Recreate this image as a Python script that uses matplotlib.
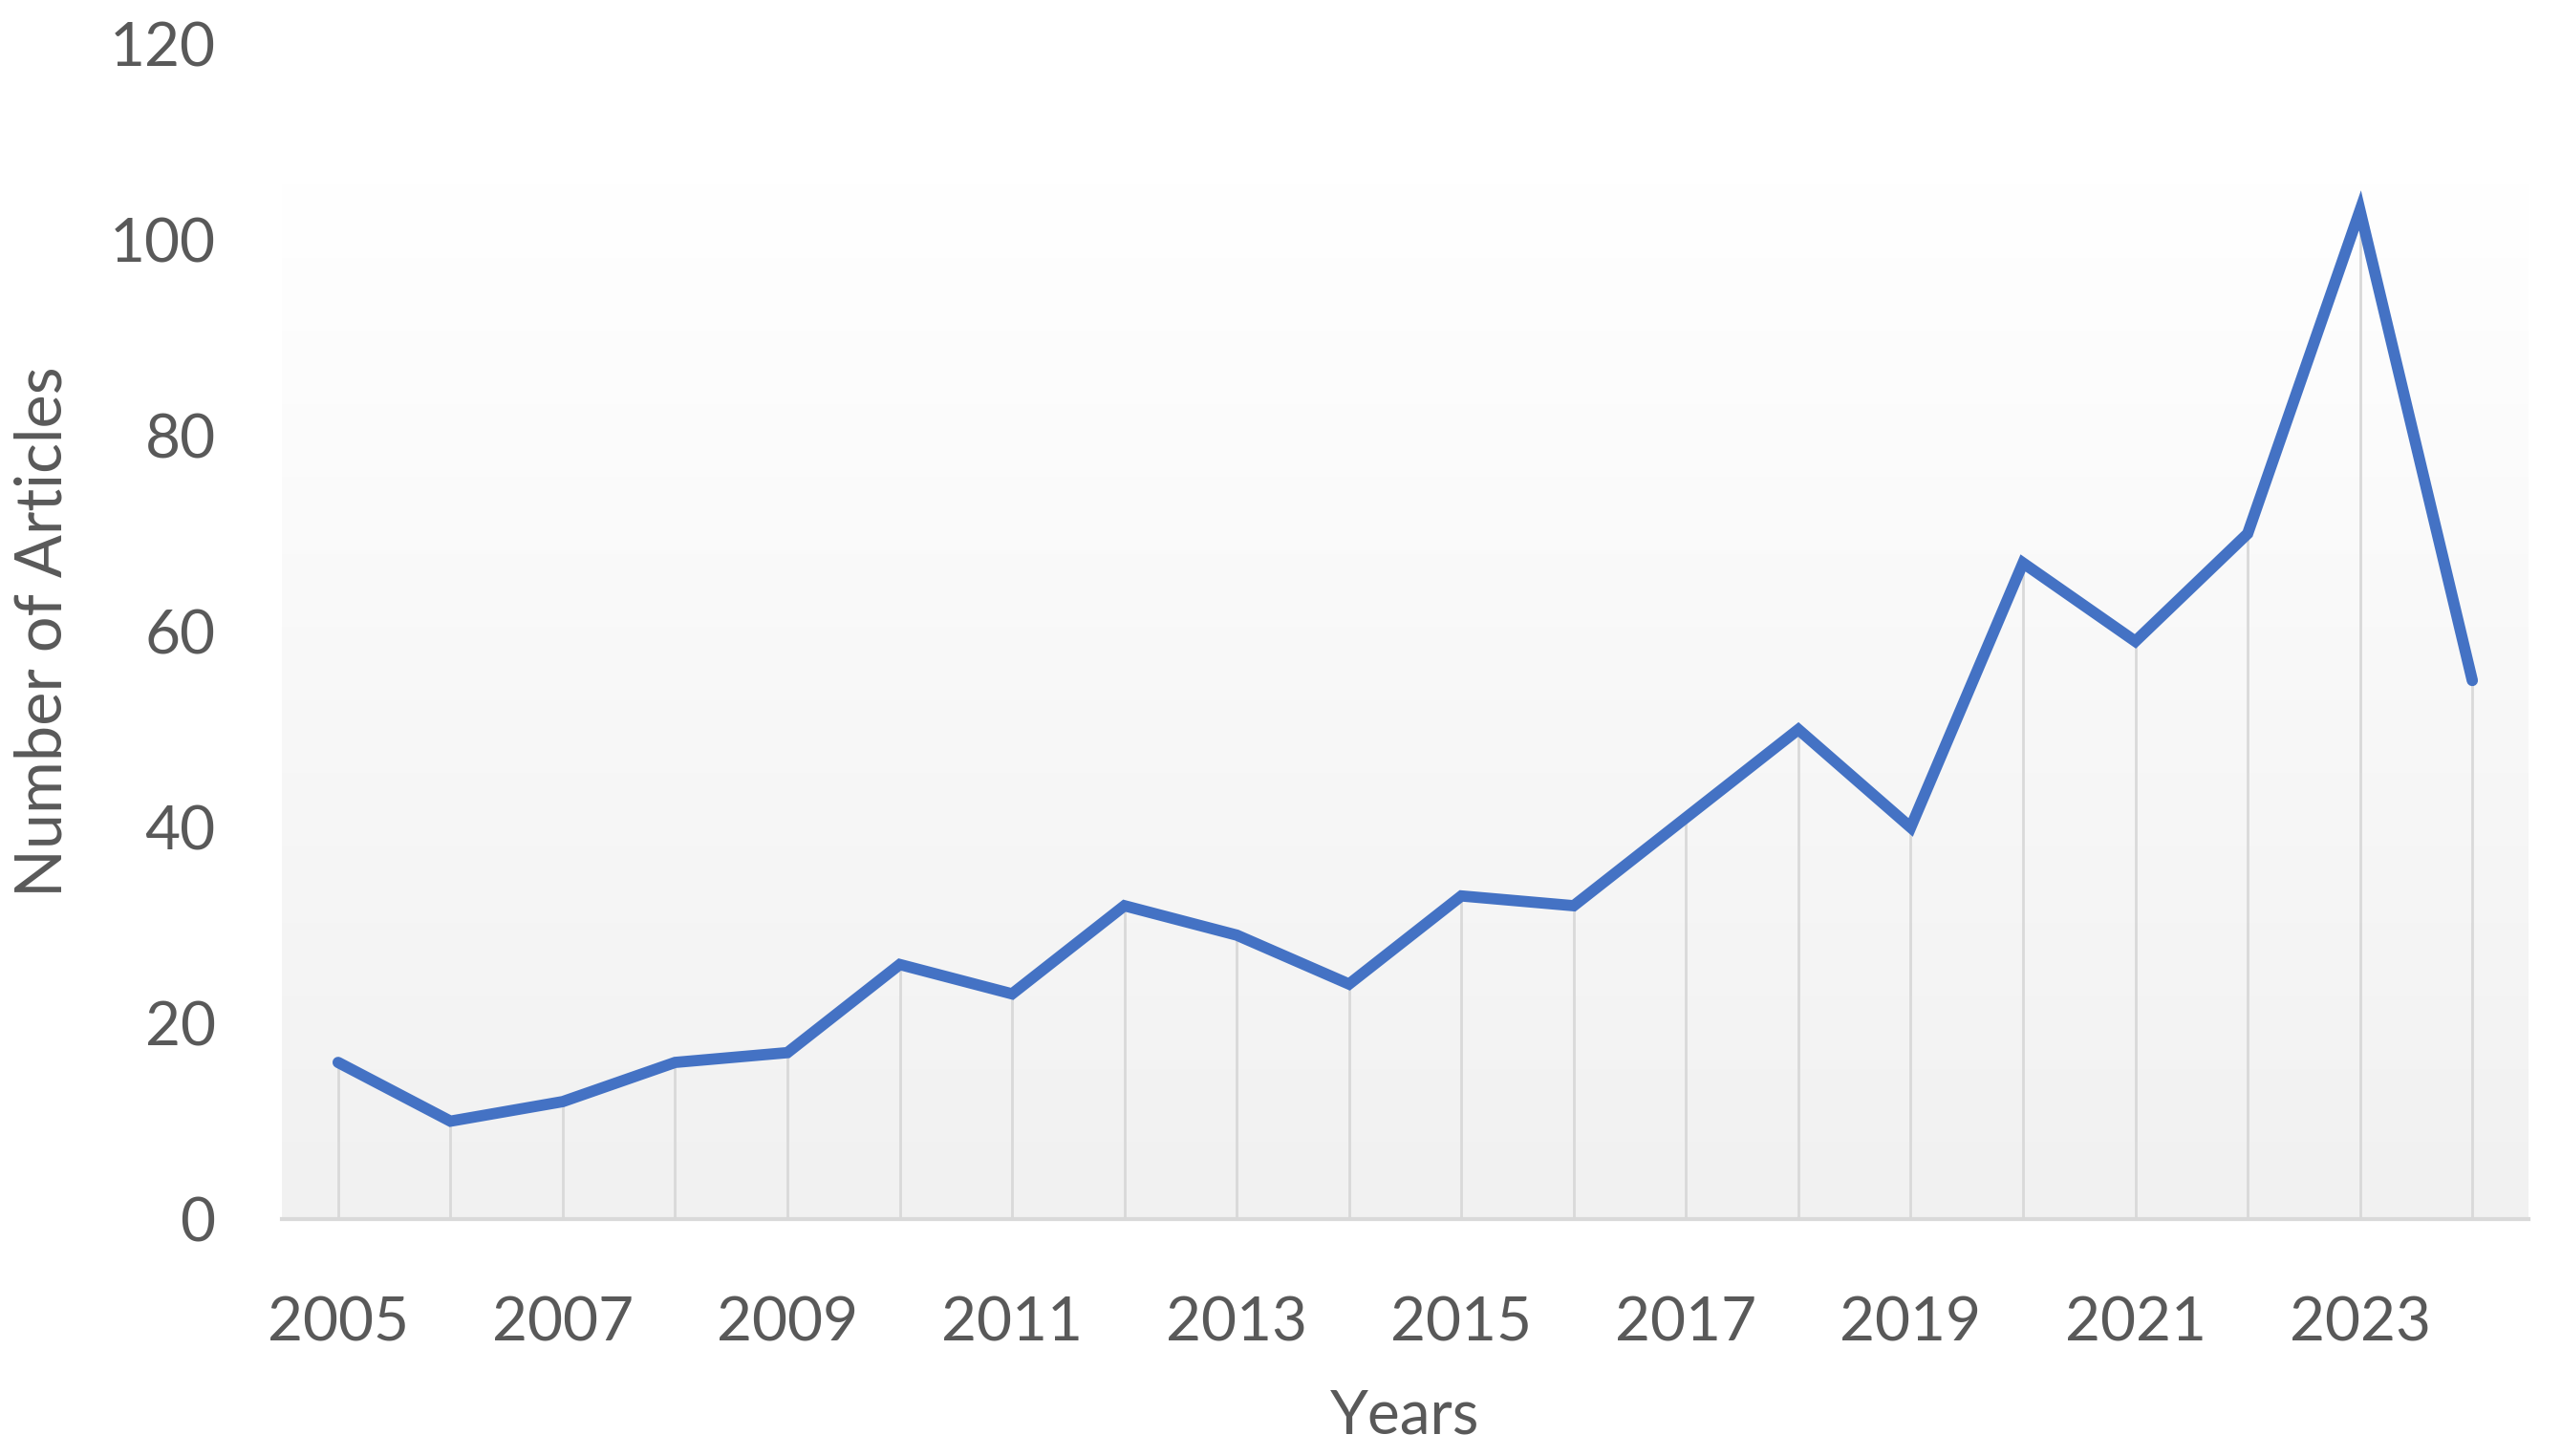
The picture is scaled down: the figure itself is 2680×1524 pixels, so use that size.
import numpy as np
import matplotlib
matplotlib.use('Agg')
import matplotlib.pyplot as plt
from matplotlib.colors import LinearSegmentedColormap

plt.rcParams['font.family'] = ['Lato', 'DejaVu Sans']

# data
years = np.arange(2005, 2025)
articles = [16, 10, 12, 16, 17, 26, 23, 32, 29, 24, 33, 32, 41, 50, 40, 67, 59, 70, 103, 55]
xtick_years = np.arange(2005, 2025, 2)
ytick_vals = np.arange(0, 121, 20)

text_col = '#595959'
line_col = '#4472C4'
grey = '#d9d9d9'

fig = plt.figure(figsize=(26.8, 15.24), dpi=100)
ax = fig.add_axes([0.1101, 0.1627, 0.8772, 0.8071])

xlo, xhi = years[0] - 0.5, years[-1] + 0.5
ax.set_xlim(xlo, xhi)
ax.set_ylim(0, 120)

# plot-area gradient (white at top -> light grey at bottom)
cmap = LinearSegmentedColormap.from_list('bg', ['#f1f1f1', '#ffffff'])
grad = np.linspace(0, 1, 256).reshape(-1, 1)
ax.imshow(grad, cmap=cmap, aspect='auto', origin='lower',
          extent=[xlo, xhi, 0, 106], zorder=0)

# drop lines
ax.vlines(years, 0, articles, color=grey, linewidth=2.0, zorder=1)
ax.plot(years, articles, color=line_col, linewidth=8.5, solid_joinstyle='miter',
        solid_capstyle='round', zorder=3)

for s in ['top', 'right', 'left']:
    ax.spines[s].set_visible(False)
ax.spines['bottom'].set_color(grey)
ax.spines['bottom'].set_linewidth(3)
ax.spines['bottom'].set_zorder(2)

ax.set_xticks(xtick_years)
ax.set_yticks(ytick_vals)
ax.tick_params(axis='both', length=0, labelsize=46, labelcolor=text_col)
ax.tick_params(axis='x', pad=58)
ax.tick_params(axis='y', pad=50)

ax.set_xlabel('Years', fontsize=46, color=text_col, labelpad=28)
ax.set_ylabel('Number of Articles', fontsize=48, color=text_col)
ax.yaxis.set_label_coords(-0.093, 0.5)

fig.savefig('out.png', dpi=100)
